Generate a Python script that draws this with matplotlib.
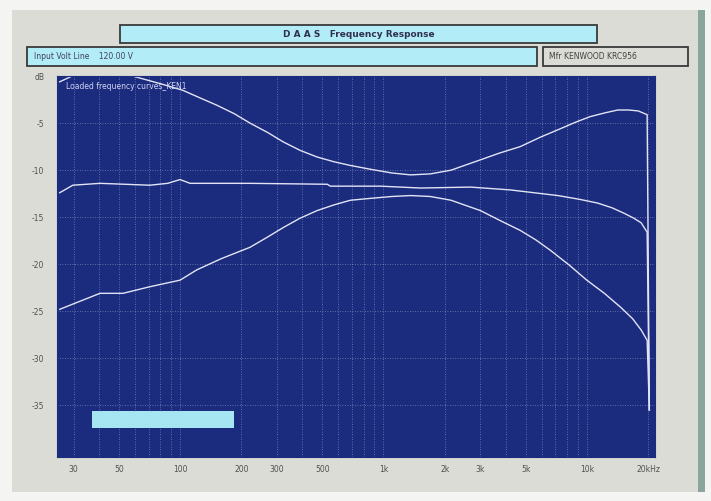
import numpy as np
import matplotlib
matplotlib.use("Agg")
import matplotlib.pyplot as plt
from matplotlib.patches import Rectangle
from matplotlib.ticker import FixedLocator, NullFormatter

# --- data (Hz, dB) ---
upper_f = [25.6, 29.4, 40, 58.7, 80, 103, 125, 152, 185, 221, 270, 322, 390, 472, 570,
           688, 862, 1100, 1360, 1700, 2150, 2500, 3000, 3700, 4700, 5900, 7400, 8800,
           10400, 12300, 14200, 16000, 17900, 19800, 20300]
upper_db = [-0.6, 0.0, 1.0, 0.0, -0.8, -1.5, -2.3, -3.1, -4.0, -5.0, -6.0, -7.0, -7.9,
            -8.6, -9.1, -9.5, -9.9, -10.3, -10.5, -10.4, -10.0, -9.5, -8.9, -8.2, -7.5,
            -6.5, -5.6, -4.9, -4.3, -3.9, -3.6, -3.6, -3.7, -4.1, -35.5]

mid_f = [25.6, 29.7, 40.4, 71, 87, 100, 112, 221, 530, 548, 967, 1520, 2680,
         4200, 7200, 9200, 11300, 13300, 15300, 17000, 18500, 19800, 20300]
mid_db = [-12.4, -11.6, -11.4, -11.6, -11.4, -11.0, -11.4, -11.4, -11.5, -11.7, -11.7,
          -11.9, -11.8, -12.1, -12.7, -13.1, -13.5, -14.0, -14.6, -15.1, -15.6, -16.6, -35.5]

low_f = [25.6, 40.4, 52.4, 71, 100, 121, 160, 221, 270, 322, 390, 472, 570, 688, 862,
         1100, 1360, 1700, 2150, 2500, 3000, 3700, 4700, 5600, 6600, 8200, 10000,
         12200, 14700, 16800, 18500, 19800, 20300]
low_db = [-24.8, -23.1, -23.1, -22.4, -21.7, -20.6, -19.4, -18.2, -17.1, -16.1, -15.1,
          -14.3, -13.7, -13.2, -13.0, -12.8, -12.7, -12.8, -13.2, -13.7, -14.3, -15.3,
          -16.4, -17.4, -18.5, -20.1, -21.7, -23.1, -24.6, -25.8, -27.0, -28.1, -35.5]

x_ticks = [30, 50, 100, 200, 300, 500, 1000, 2000, 3000, 5000, 10000, 20000]
x_labels = ['30', '50', '100', '200', '300', '500', '1k', '2k', '3k', '5k', '10k', '20kHz']
y_ticks = [0, -5, -10, -15, -20, -25, -30, -35]
y_labels = ['dB', '-5', '-10', '-15', '-20', '-25', '-30', '-35']

# colours
navy = '#1b2b7e'
curve = '#e2e4f6'
cyan = '#b2ecf7'
panel = '#dcdcd7'
edge = '#3a3a3a'
txt = '#505050'

plt.rcParams['font.family'] = 'DejaVu Sans'

fig = plt.figure(figsize=(7.11, 5.01), dpi=100)
fig.patch.set_facecolor('#f4f4f2')

# photo frame / panel
fig.add_artist(Rectangle((0.017, 0.018), 0.965, 0.962, transform=fig.transFigure,
                         facecolor=panel, edgecolor='none', zorder=0))
fig.add_artist(Rectangle((0.982, 0.018), 0.010, 0.962, transform=fig.transFigure,
                         facecolor='#8aa59b', edgecolor='none', zorder=0))

# header boxes
fig.add_artist(Rectangle((0.169, 0.914), 0.671, 0.036, transform=fig.transFigure,
                         facecolor=cyan, edgecolor=edge, lw=1.3, zorder=1))
fig.text(0.504, 0.932, 'D A A S   Frequency Response', ha='center', va='center',
         fontsize=6.5, fontweight='bold', color='#303050', zorder=2)

fig.add_artist(Rectangle((0.038, 0.868), 0.717, 0.038, transform=fig.transFigure,
                         facecolor=cyan, edgecolor=edge, lw=1.3, zorder=1))
fig.text(0.048, 0.887, 'Input Volt Line    120.00 V', ha='left', va='center',
         fontsize=5.5, color='#404060', zorder=2)

fig.add_artist(Rectangle((0.764, 0.868), 0.204, 0.038, transform=fig.transFigure,
                         facecolor=panel, edgecolor=edge, lw=1.3, zorder=1))
fig.text(0.772, 0.887, 'Mfr KENWOOD KRC956', ha='left', va='center',
         fontsize=5.5, color='#404040', zorder=2)

ax = fig.add_axes([0.080, 0.088, 0.841, 0.760])
ax.set_facecolor(navy)
for s in ax.spines.values():
    s.set_color(navy)

ax.set_xscale('log')
ax.set_xlim(24.8, 21600)
ax.set_ylim(-40.5, 0)

ax.plot(upper_f, upper_db, color=curve, lw=1.0)
ax.plot(mid_f, mid_db, color=curve, lw=1.0)
ax.plot(low_f, low_db, color=curve, lw=1.0)

# grid
minor = [m * 10 ** d for d in range(1, 5) for m in range(2, 10)]
ax.xaxis.set_minor_locator(FixedLocator(minor))
ax.xaxis.set_minor_formatter(NullFormatter())
ax.set_xticks(x_ticks)
ax.set_xticklabels(x_labels)
ax.set_yticks(y_ticks)
ax.set_yticklabels(y_labels)
ax.grid(which='both', axis='x', color='#c8cce8', ls=(0, (1, 2)), lw=0.6, alpha=0.55)
ax.grid(which='major', axis='y', color='#c8cce8', ls=(0, (1, 2)), lw=0.6, alpha=0.55)
ax.tick_params(which='both', length=0, labelsize=5.5, labelcolor=txt)
ax.tick_params(axis='x', pad=6)
ax.tick_params(axis='y', pad=9)

ax.text(0.015, 0.985, 'Loaded frequency curves_KEN1', transform=ax.transAxes,
        ha='left', va='top', fontsize=5.5, color='#d0d4f0')

# blank legend box
ax.add_patch(Rectangle((0.0585, 0.076), 0.2375, 0.045, transform=ax.transAxes,
                       facecolor='#a6e6f3', edgecolor='none', zorder=3))

fig.savefig('out.png', dpi=100, facecolor=fig.get_facecolor())
